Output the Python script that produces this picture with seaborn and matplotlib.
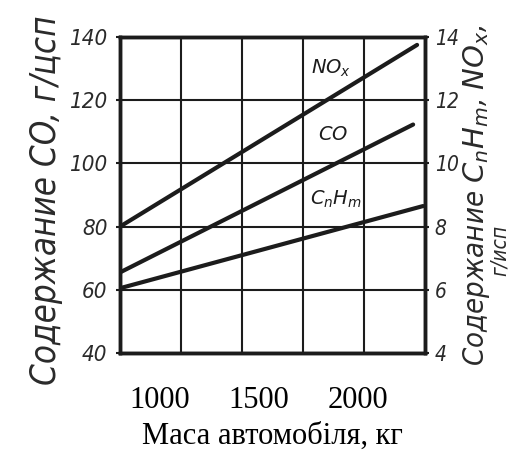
import numpy as np
import pandas as pd
import matplotlib
matplotlib.use("Agg")
import matplotlib.pyplot as plt
import seaborn as sns

# ---- data ----
mass_nox = [800, 2300]
nox = [8.0, 13.75]          # right axis
mass_co = [800, 2280]
co = [65.5, 112.3]          # left axis
mass_chm = [800, 2330]
chm = [6.05, 8.65]          # right axis
x_ticks = [1000, 1500, 2000]
left_ticks = [40, 60, 80, 100, 120, 140]
right_ticks = [4, 6, 8, 10, 12, 14]

sns.set_theme(style="white")
plt.rcParams['font.family'] = ['DejaVu Sans']
plt.rcParams['mathtext.fontset'] = 'custom'
plt.rcParams['mathtext.it'] = 'DejaVu Sans:italic'
plt.rcParams['mathtext.rm'] = 'DejaVu Sans:italic'

ink = '#1c1c1c'
draft = dict(fontstyle='italic', fontstretch='condensed', color='#2a2a2a')

fig = plt.figure(figsize=(5.09, 4.53), dpi=100)
ax = fig.add_axes([120/509, 1 - 353/453, 305/509, 316/453])
ax2 = ax.twinx()

df_co = pd.DataFrame({'mass': mass_co, 'val': co})
df_nox = pd.DataFrame({'mass': mass_nox, 'val': nox})
df_chm = pd.DataFrame({'mass': mass_chm, 'val': chm})
sns.lineplot(data=df_co, x='mass', y='val', ax=ax, color=ink, lw=3.0)
sns.lineplot(data=df_nox, x='mass', y='val', ax=ax2, color=ink, lw=3.0)
sns.lineplot(data=df_chm, x='mass', y='val', ax=ax2, color=ink, lw=3.0)

ax.set_xlim(800, 2340)
ax.set_ylim(40, 140)
ax2.set_ylim(4, 14)

# grid
ax.set_xticks(np.linspace(800, 2340, 6), minor=True)
ax.grid(which='minor', axis='x', color=ink, lw=1.5)
ax.grid(which='major', axis='y', color=ink, lw=1.5)
ax.grid(which='major', axis='x', visible=False)
ax2.grid(False)

ax.set_xticks(x_ticks, labels=[str(v) for v in x_ticks],
              fontfamily='Liberation Serif', fontsize=22, color='black')
ax.tick_params(axis='x', which='both', length=0, pad=24)
ax.set_xlabel('Маса автомобіля, кг', fontfamily='Liberation Serif',
              fontsize=22, color='black', labelpad=5)

ax.set_yticks(left_ticks, labels=[str(v) for v in left_ticks], fontsize=16, **draft)
ax.tick_params(axis='y', length=3, width=1.5, color=ink, pad=6, left=True)
ax2.set_yticks(right_ticks, labels=[str(v) for v in right_ticks], fontsize=15, **draft)
ax2.tick_params(axis='y', length=3, width=1.5, color=ink, pad=4, right=True)
ax.set_ylabel('')
ax2.set_ylabel('')

for a in (ax, ax2):
    for s in a.spines.values():
        s.set_color(ink)
        s.set_linewidth(2.5)
        s.set_visible(True)

# series labels
ax2.text(1865, 13.0, r'$NO_x$', fontsize=14, ha='center', va='center', color=ink)
ax.text(1875, 109, r'$CO$', fontsize=14, ha='center', va='center', color=ink)
ax2.text(1890, 8.85, r'$C_nH_m$', fontsize=14, ha='center', va='center', color=ink)

# axis titles
fig.text(46/509, 1 - 200/453, 'Содержание CO, г/цсп', rotation=90,
         ha='center', va='center', fontsize=25, **draft)
fig.text(476/509, 1 - 195/453, r'Содержание $C_nH_m$, $NO_x$,', rotation=90,
         ha='center', va='center', fontsize=21, **draft)
fig.text(500/509, 1 - 250/453, 'г/исп', rotation=90,
         ha='center', va='center', fontsize=15, **draft)

fig.savefig('out.png', dpi=100)
